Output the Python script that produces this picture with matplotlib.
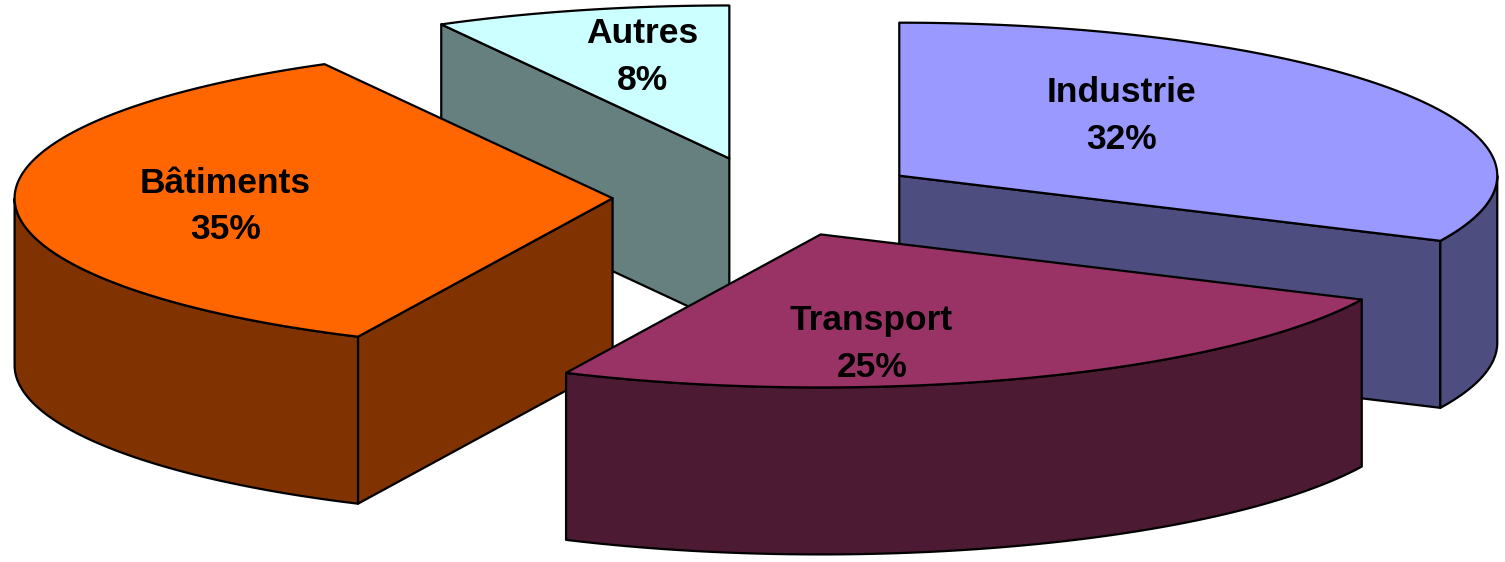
import numpy as np
import matplotlib.pyplot as plt
from matplotlib.patches import Polygon

# Data
labels = ['Industrie', 'Transport', 'Bâtiments', 'Autres']
values = [32, 25, 35, 8]

# Style
top_colors = ['#9999FF', '#993366', '#FF6600', '#CCFFFF']
side_colors = ['#4D4D80', '#4D1A33', '#803300', '#668080']
label_r = [0.54, 0.72, 0.65, 0.68]      # radius fraction of the label on the top face
label_shift = [-14, 13, -3, 2]          # angle shift (deg) from the slice middle

# layout of the tilted pie (pixel units, y down)
cx, cy = 768, 197
rx, ry = 598, 153
depth = 167
explode = 0.26


def rim(ox, oy, th):
    # th in degrees, clockwise from 12 o'clock
    t = np.radians(th)
    return ox + rx * np.sin(t), oy - ry * np.cos(t)


fig = plt.figure(figsize=(15.05, 5.62), dpi=100)
ax = fig.add_axes([0, 0, 1, 1])
ax.set_xlim(0, 1505)
ax.set_ylim(562, 0)
ax.axis('off')

total = sum(values)
bounds = np.concatenate([[0], np.cumsum(values)]) / total * 360

slices = []
for i in range(len(values)):
    th0, th1 = bounds[i], bounds[i + 1]
    mid = (th0 + th1) / 2
    ox = cx + explode * rx * np.sin(np.radians(mid))
    oy = cy - explode * ry * np.cos(np.radians(mid))
    slices.append((oy, i, th0, th1, mid, ox))

kw = dict(edgecolor='black', linewidth=1.6, joinstyle='round')

# back to front
for oy, i, th0, th1, mid, ox in sorted(slices):
    # flat cut faces
    for th, sgn in ((th0, -1), (th1, 1)):
        if sgn * np.sin(np.radians(th)) > 1e-6:
            px, py = rim(ox, oy, th)
            pts = [(ox, oy), (px, py), (px, py + depth), (ox, oy + depth)]
            ax.add_patch(Polygon(pts, closed=True, facecolor=side_colors[i], **kw))
    # curved outer side (front half only)
    a0, a1 = max(th0, 90), min(th1, 270)
    if a1 > a0:
        t = np.linspace(a0, a1, 120)
        xs, ys = rim(ox, oy, t)
        pts = list(zip(xs, ys)) + list(zip(xs[::-1], ys[::-1] + depth))
        ax.add_patch(Polygon(pts, closed=True, facecolor=side_colors[i], **kw))
    # top face
    t = np.linspace(th0, th1, 200)
    xs, ys = rim(ox, oy, t)
    pts = [(ox, oy)] + list(zip(xs, ys))
    ax.add_patch(Polygon(pts, closed=True, facecolor=top_colors[i], **kw))

    # label
    la = np.radians(mid + label_shift[i])
    lx = ox + label_r[i] * rx * np.sin(la)
    ly = oy - label_r[i] * ry * np.cos(la)
    ax.text(lx, ly, f'{labels[i]}\n{values[i]}%', ha='center', va='center',
            fontsize=25.5, fontweight='bold', family=['Liberation Sans', 'DejaVu Sans'],
            linespacing=1.52, zorder=10)

fig.savefig('out.png', dpi=100)
